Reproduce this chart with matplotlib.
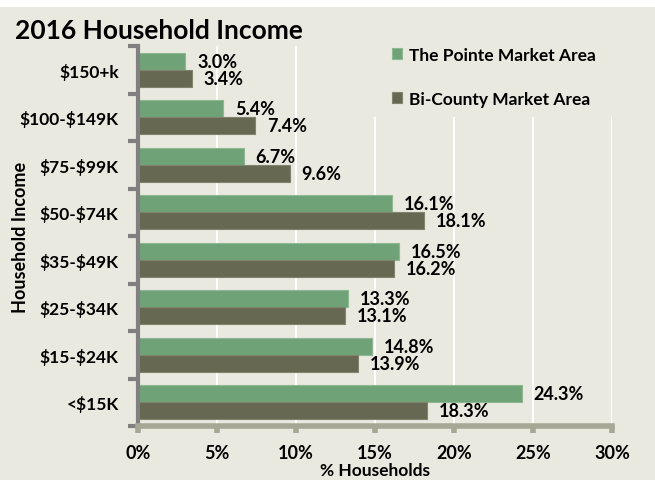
import matplotlib
matplotlib.use("Agg")
import matplotlib.pyplot as plt
from matplotlib.patches import Rectangle

# data (bottom to top)
categories = ['<\\$15K', '\\$15-\\$24K', '\\$25-\\$34K', '\\$35-\\$49K',
              '\\$50-\\$74K', '\\$75-\\$99K', '\\$100-\\$149K', '\\$150+k']
pointe = [24.3, 14.8, 13.3, 16.5, 16.1, 6.7, 5.4, 3.0]
bicounty = [18.3, 13.9, 13.1, 16.2, 18.1, 9.6, 7.4, 3.4]
series_names = ['The Pointe Market Area', 'Bi-County Market Area']
xticks = [0, 5, 10, 15, 20, 25, 30]

bg = '#E9E9DF'
green = '#6FA277'
dark = '#666852'

plt.rcParams['font.family'] = ['Lato', 'DejaVu Sans']
plt.rcParams['font.weight'] = 'bold'
fs = 12.5

fig = plt.figure(figsize=(6.55, 4.81), dpi=100, facecolor=bg)
ax = fig.add_axes([138/655, 1-427/481, 474/655, 380/481])
ax.set_facecolor(bg)

# white strip at the top of the picture
fig.patches.append(Rectangle((0, 1-8/481), 1, 8/481, transform=fig.transFigure,
                             facecolor='white', edgecolor='none', zorder=0))

pos = list(range(len(categories)))
h = 0.36
ax.barh([p + h/2 for p in pos], pointe, height=h, color=green,
        edgecolor='#8DB892', linewidth=0.8, label=series_names[0], zorder=2)
ax.barh([p - h/2 for p in pos], bicounty, height=h, color=dark,
        edgecolor='#80836E', linewidth=0.8, label=series_names[1], zorder=2)

for p, v in zip(pos, pointe):
    ax.text(v + 0.75, p + h/2, f'{v:.1f}%', va='center', ha='left',
            fontsize=13, fontweight='bold', zorder=4)
for p, v in zip(pos, bicounty):
    ax.text(v + 0.75, p - h/2, f'{v:.1f}%', va='center', ha='left',
            fontsize=13, fontweight='bold', zorder=4)

ax.set_xlim(0, 30)
ax.set_ylim(-0.5, 7.5)
ax.set_xticks(xticks)
ax.set_xticklabels([f'{t}%' for t in xticks], fontsize=13, fontweight='bold')
ax.set_yticks(pos)
ax.set_yticklabels(categories, fontsize=fs, fontweight='bold')
ax.set_yticks([p - 0.5 for p in pos] + [7.5], minor=True)

ax.tick_params(axis='y', which='major', length=0, pad=14)
ax.tick_params(axis='y', which='minor', length=7, width=3, color='#808080')
ax.tick_params(axis='x', length=5, width=4, color='#A6A895', pad=8)

ax.grid(axis='x', color='white', linewidth=1.5, zorder=0)
ax.set_axisbelow(True)

for s in ['top', 'right']:
    ax.spines[s].set_visible(False)
ax.spines['left'].set_color('#808080')
ax.spines['left'].set_linewidth(3)
ax.spines['bottom'].set_color('#A6A895')
ax.spines['bottom'].set_linewidth(4)

ax.set_xlabel('% Households', fontsize=12.5, fontweight='bold', va='center')
ax.xaxis.set_label_coords((375-138)/474, (427-471)/380)
ax.set_ylabel('Household Income', fontsize=13, fontweight='bold', va='center')
ax.yaxis.set_label_coords((21-138)/474, 0.5)

fig.text(15/655, 1-31/481, '2016 Household Income', fontsize=19,
         fontweight='bold', va='center', ha='left')

# legend area hides the gridlines behind it
fig.patches.append(Rectangle((372/655, 1-118/481), 1, 110/481,
                             transform=fig.transFigure, facecolor=bg,
                             edgecolor='none', zorder=1))
handles, labels = ax.get_legend_handles_labels()
leg = fig.legend(handles, labels, loc='upper left',
                 bbox_to_anchor=(392/655, 1-48/481),
                 frameon=False, prop={'size': fs, 'weight': 'bold'},
                 handlelength=0.6, handleheight=0.6, handletextpad=0.4,
                 labelspacing=1.6, borderpad=0, borderaxespad=0)
leg.set_zorder(5)

fig.savefig('out.png', dpi=100, facecolor=bg)
